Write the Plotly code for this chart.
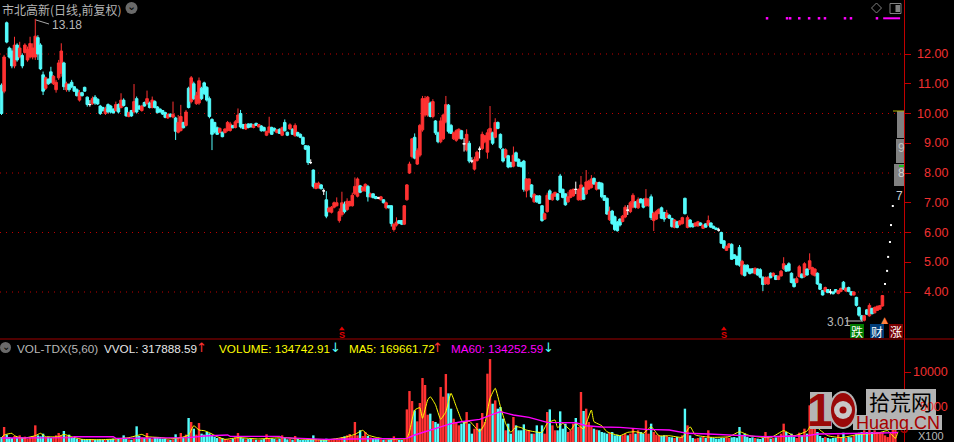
import plotly.graph_objects as go

# ---------- daily prices (estimates) ----------
highs = [
11.01,11.97,13.09,12.25,12.19,12.58,12.36,12.41,12.02,12.36,12.25,12.58,12.36,13.18,12.63,12.36,11.41,11.24,11.18,11.57,11.29,
11.13,11.80,12.36,11.74,11.07,11.01,11.13,10.92,10.85,10.79,10.73,10.90,10.57,10.45,10.57,10.62,10.51,10.29,10.23,10.23,10.34,
10.29,10.17,10.40,10.34,10.68,10.51,10.23,10.06,10.12,10.99,10.57,10.29,10.29,10.40,10.77,10.40,10.57,10.45,10.25,10.17,10.12,
10.06,10.00,10.00,10.40,9.89,9.95,10.29,9.72,10.12,10.90,11.26,11.07,10.73,11.21,10.90,11.07,10.92,10.57,9.84,9.72,9.56,9.53,9.39,
9.50,9.75,9.72,9.61,9.78,10.17,10.12,9.65,9.67,9.67,9.67,9.65,9.69,9.65,9.61,9.56,9.42,9.89,9.56,9.53,9.47,9.50,9.56,9.80,9.39,
9.67,9.50,9.67,9.39,9.33,9.22,8.94,
8.94,8.46,8.12,7.68,7.71,7.63,7.48,7.39,6.87,6.89,7.04,7.18,6.81,7.37,7.04,7.15,7.07,7.34,7.85,7.85,7.60,7.56,7.65,7.60,7.34,7.32,
7.23,7.20,7.23,7.12,7.04,6.92,6.92,6.31,6.51,6.42,6.42,6.92,7.63,8.38,9.17,9.33,8.83,9.65,10.59,10.59,10.59,10.40,10.48,9.78,9.39,
9.87,10.00,10.59,10.32,9.65,9.39,9.47,9.50,9.45,9.17,9.47,9.08,8.53,8.55,8.75,8.89,9.39,9.28,9.47,10.25,9.39,9.84,9.73,9.33,8.83,
8.83,8.61,8.38,8.89,8.72,8.49,8.38,8.44,7.82,7.82,7.63,7.32,7.26,7.26,6.92,6.67,7.34,7.45,7.32,7.37,7.32,7.97,7.48,7.32,7.37,7.45,
7.48,7.71,7.48,7.90,7.54,8.10,7.77,7.93,7.85,7.71,7.71,
7.69,7.26,7.18,6.87,6.76,6.57,6.39,6.48,6.59,6.92,6.92,7.06,7.32,7.06,7.18,7.15,7.15,7.46,7.15,7.28,6.70,6.76,6.81,6.87,6.70,6.76,
6.61,6.50,6.45,6.39,6.42,6.53,7.17,6.57,6.45,6.31,6.34,6.39,6.34,6.27,6.31,6.57,6.34,6.23,6.17,6.16,6.03,5.75,5.56,5.64,
5.64,5.27,5.22,5.58,5.08,4.93,4.93,4.80,4.80,4.82,4.80,4.80,4.52,4.52,4.52,4.66,4.66,4.57,4.55,4.74,5.17,4.91,5.00,4.66,4.46,4.52,
4.91,4.63,5.00,4.80,5.30,4.85,4.80,4.66,4.29,4.07,4.18,4.10,4.10,4.03,4.10,4.07,4.15,4.37,4.15,4.18,4.03,4.03,3.84,3.51,3.23,3.23,
3.43,3.62,3.47,3.51,3.54,3.56,3.90]
lows = [
9.95,10.68,12.36,11.85,11.52,11.52,11.74,11.85,11.52,12.02,11.74,11.85,11.82,11.80,11.80,11.46,10.62,10.79,10.96,11.01,10.96,
10.70,11.13,11.24,10.79,10.73,10.73,10.85,10.73,10.57,10.40,10.57,10.73,10.23,10.23,10.29,10.29,10.29,9.95,10.06,9.95,10.00,
10.00,10.00,10.06,10.00,10.17,10.23,9.89,9.87,9.89,10.00,10.00,10.12,10.06,10.23,10.29,10.17,10.17,10.17,10.00,10.03,9.95,
9.84,9.82,9.87,9.84,9.11,9.33,9.39,9.50,9.56,10.17,10.34,10.45,10.29,10.29,10.45,10.62,10.40,9.84,8.77,9.33,9.28,9.33,9.20,
9.33,9.39,9.39,9.50,9.50,9.67,9.50,9.47,9.45,9.50,9.53,9.50,9.58,9.53,9.39,9.39,9.24,9.33,9.28,9.39,9.33,9.31,9.24,9.39,9.24,
9.45,9.28,9.22,9.22,9.17,8.94,8.77,
8.27,8.30,7.48,7.45,7.48,7.45,7.26,6.48,6.67,6.64,6.81,6.87,6.33,6.53,6.64,6.73,6.87,6.87,7.26,7.18,7.32,7.37,7.37,7.04,7.18,7.15,
7.12,7.12,7.07,6.98,6.78,6.81,6.20,6.03,6.20,6.29,6.25,6.25,7.07,7.97,8.49,8.46,8.27,8.53,9.39,9.89,9.89,9.87,9.84,9.28,9.00,
9.00,9.11,9.67,9.33,9.31,9.11,9.05,9.13,9.13,8.72,8.72,8.33,8.33,8.08,8.38,8.49,8.77,9.00,8.48,9.09,8.94,9.17,9.47,8.80,8.35,
8.49,8.16,8.19,8.19,8.38,8.21,8.19,7.37,7.18,7.41,7.15,7.00,7.00,6.96,6.36,6.42,6.67,7.09,7.07,7.20,7.07,7.32,7.15,6.90,7.00,7.15,
7.20,7.29,7.07,7.07,7.09,7.26,7.43,7.48,7.60,7.41,7.45,
7.15,7.06,6.59,6.39,6.25,6.05,6.03,6.20,6.34,6.48,6.59,6.65,6.81,6.81,6.79,6.98,6.81,6.87,6.87,6.42,6.05,6.42,6.61,6.45,6.36,6.48,
6.45,6.16,6.14,6.14,6.23,6.27,6.61,6.14,6.16,6.17,6.20,6.20,6.22,6.12,6.16,6.23,6.16,6.12,6.08,6.03,5.61,5.45,5.38,5.47,
5.08,5.11,4.89,4.85,4.55,4.52,4.66,4.59,4.63,4.59,4.55,4.46,4.03,4.24,4.24,4.46,4.52,4.40,4.40,4.52,4.74,4.68,4.68,4.29,4.15,4.29,
4.48,4.46,4.48,4.55,4.74,4.55,4.52,4.24,4.07,3.88,3.99,3.96,3.92,3.92,3.99,3.92,3.99,4.07,4.01,3.99,3.88,3.88,3.51,3.17,3.03,3.01,
3.23,3.17,3.25,3.28,3.36,3.40,3.51]
opens = [
10.95,10.75,13.05,12.20,12.10,11.60,12.30,11.90,11.95,12.05,11.80,11.90,11.90,11.90,12.55,12.30,11.30,10.85,11.15,11.40,11.00,
10.80,11.20,11.35,11.70,10.80,10.98,11.05,10.90,10.80,10.45,10.70,10.88,10.55,10.30,10.33,10.55,10.48,10.25,10.20,10.00,10.30,
10.25,10.15,10.10,10.30,10.20,10.45,10.20,9.90,10.10,10.05,10.50,10.25,10.10,10.37,10.33,10.35,10.20,10.40,10.22,10.15,10.10,
10.03,9.85,9.98,9.88,9.85,9.37,9.43,9.70,9.60,10.85,10.40,11.00,10.33,10.35,10.85,11.03,10.88,10.50,9.80,9.70,9.52,9.36,9.37,
9.36,9.43,9.43,9.60,9.53,9.70,10.00,9.63,9.48,9.65,9.65,9.53,9.67,9.55,9.58,9.53,9.27,9.37,9.53,9.50,9.36,9.47,9.27,9.70,9.37,
9.48,9.47,9.25,9.36,9.30,9.20,8.92,
8.90,8.35,8.10,7.48,7.50,7.60,7.40,7.10,6.70,6.68,6.85,6.90,6.40,6.60,6.95,6.77,6.90,6.90,7.30,7.22,7.57,7.40,7.40,7.55,7.20,7.30,
7.21,7.16,7.10,7.10,6.83,6.90,6.90,6.10,6.25,6.40,6.40,6.28,7.10,8.00,8.55,9.20,8.30,8.60,9.45,9.95,9.95,10.35,9.90,9.75,9.35,
9.05,9.15,9.72,10.28,9.60,9.15,9.10,9.17,9.42,8.98,8.77,9.00,8.40,8.13,8.42,8.80,8.82,9.05,8.70,9.13,9.35,9.20,9.70,9.30,8.80,
8.53,8.58,8.35,8.23,8.68,8.46,8.35,8.40,7.40,7.45,7.60,7.03,7.23,7.23,6.90,6.45,6.70,7.40,7.10,7.22,7.30,7.90,7.45,7.30,7.03,7.18,
7.23,7.45,7.10,7.10,7.50,7.30,7.46,7.51,7.82,7.45,7.68,
7.65,7.24,7.15,6.43,6.72,6.53,6.35,6.45,6.37,6.52,6.75,6.70,6.85,7.03,6.83,7.13,7.10,6.90,6.90,7.20,6.40,6.45,6.64,6.83,6.67,6.50,
6.58,6.47,6.17,6.36,6.26,6.30,7.15,6.17,6.42,6.29,6.22,6.22,6.32,6.14,6.29,6.25,6.32,6.21,6.15,6.08,6.00,5.72,5.40,5.50,
5.60,5.25,5.20,5.50,4.60,4.90,4.90,4.77,4.78,4.62,4.77,4.75,4.50,4.28,4.27,4.63,4.54,4.55,4.42,4.54,4.78,4.88,4.95,4.63,4.43,4.32,
4.52,4.60,4.52,4.77,4.78,4.60,4.55,4.63,4.27,4.05,4.02,4.08,4.00,4.00,4.08,3.95,4.02,4.33,4.03,4.15,4.01,3.90,3.82,3.48,3.20,3.05,
3.40,3.20,3.45,3.30,3.38,3.42,3.53]
closes = [
10.00,11.90,12.40,11.90,11.60,12.30,11.80,12.20,11.60,12.30,12.15,12.35,12.20,12.60,12.00,11.50,10.75,11.20,11.00,11.05,11.25,
11.05,11.70,12.10,10.90,11.00,10.80,10.90,10.75,10.60,10.70,10.60,10.75,10.30,10.30,10.50,10.35,10.32,10.00,10.10,10.15,10.05,
10.05,10.02,10.30,10.05,10.45,10.27,9.92,10.03,9.92,10.40,10.05,10.15,10.25,10.25,10.50,10.20,10.45,10.20,10.03,10.05,9.98,
9.87,9.97,9.90,9.97,9.40,9.70,9.90,9.52,10.05,10.20,11.20,10.50,10.60,11.10,10.50,10.67,10.45,9.90,9.30,9.38,9.30,9.50,9.22,
9.48,9.70,9.65,9.52,9.72,9.95,9.55,9.50,9.63,9.53,9.55,9.62,9.60,9.63,9.42,9.42,9.40,9.55,9.30,9.42,9.45,9.33,9.52,9.42,9.27,
9.62,9.30,9.60,9.25,9.20,8.97,8.80,
8.35,8.35,7.55,7.65,7.66,7.47,7.40,6.55,6.82,6.85,7.00,7.00,6.70,7.00,6.70,7.05,7.04,7.25,7.55,7.80,7.35,7.52,7.62,7.20,7.30,7.17,
7.14,7.16,7.20,7.00,7.00,6.83,6.30,6.28,6.35,6.31,6.28,6.90,7.60,8.30,9.15,8.50,8.75,9.60,10.50,10.50,10.55,9.90,10.40,9.35,9.05,
9.75,9.95,10.30,9.40,9.33,9.35,9.42,9.47,9.15,8.98,9.30,8.40,8.40,8.45,8.70,8.80,9.30,9.25,9.35,9.50,9.00,9.70,9.50,8.85,8.40,
8.78,8.20,8.21,8.60,8.40,8.23,8.21,7.45,7.80,7.80,7.20,7.28,7.03,6.98,6.40,6.63,7.25,7.12,7.28,7.35,7.10,7.35,7.18,6.93,7.20,7.42,
7.45,7.45,7.45,7.60,7.12,7.70,7.73,7.80,7.63,7.68,7.47,
7.20,7.08,6.62,6.70,6.30,6.10,6.06,6.25,6.55,6.85,6.75,7.00,7.25,6.85,7.10,7.00,6.85,7.15,7.10,6.50,6.65,6.70,6.78,6.48,6.45,6.65,
6.48,6.20,6.42,6.17,6.39,6.50,6.63,6.50,6.20,6.19,6.32,6.36,6.24,6.25,6.18,6.40,6.18,6.14,6.10,6.08,5.64,5.48,5.53,5.62,
5.10,5.13,4.92,4.90,5.03,4.55,4.70,4.62,4.65,4.80,4.57,4.50,4.25,4.48,4.50,4.48,4.63,4.42,4.53,4.70,4.95,4.70,4.72,4.32,4.18,4.45,
4.85,4.48,4.95,4.57,5.05,4.82,4.77,4.27,4.09,3.90,4.15,3.98,4.00,3.94,4.00,4.05,4.12,4.10,4.13,4.02,3.90,4.00,3.55,3.22,3.08,3.20,
3.25,3.55,3.27,3.48,3.52,3.54,3.88]

# ---------- volume (x100 lots), one entry per day; the panel runs a few days past the last candle ----------
volumes = [
710,2140,1050,710,570,860,670,950,670,760,480,670,860,2380,950,810,1190,670,760,570,670,950,1290,950,1570,860,1050,670,570,480,
380,430,330,290,430,380,290,330,380,330,290,380,430,480,380,430,480,950,480,380,330,430,2240,860,670,620,1290,570,430,710,
670,520,480,430,330,290,380,1100,570,1290,670,1050,3430,2860,1900,1050,2710,1190,1050,1430,1240,950,760,570,670,570,430,380,330,480,
670,1290,670,520,380,430,520,380,330,290,330,430,1100,570,520,430,380,480,950,570,380,430,330,860,430,290,
290,240,240,330,950,330,290,240,380,480,290,240,290,240,290,710,810,950,1140,860,2860,950,1670,860,1430,860,670,570,570,480,
380,330,290,330,380,810,380,290,290,380,
4660,7280,5850,4520,2950,5570,9140,8140,3900,4050,3000,2860,2620,7850,6470,9710,6950,4760,3330,2860,2380,2620,2860,4280,2620,
1190,1900,2710,1900,4140,2860,9760,11850,5470,5950,4760,5000,3330,1670,2620,1190,3570,2380,1670,1670,2520,1670,1670,1190,1190,
2380,1430,2380,1190,4280,4660,2380,1670,1670,4380,1900,2620,1430,1670,2620,3430,2140,7140,4430,4760,2860,2140,1900,1760,1670,
1430,1330,1190,1330,1430,950,1050,860,950,1190,950,1190,1900,1190,1670,1430,1190,3090,1190,2620,1430,1050,950,860,950,860,710,670,
570,710,570,950,4760,2380,950,570,480,570,670,710,570,1670,670,570,480,480,570,570,670,570,670,710,620,2140,950,1190,710,570,670,
570,480,430,570,1430,710,480,570,670,710,1190,2620,1430,950,1190,710,570,1330,950,1900,1190,5240,3330,2860,1430,860,570,710,570,
480,570,570,1050,710,1330,570,710,670,860,1190,1330,1430,1670,1430,1900,1430,1670,1430,1330,1330,950,710,1190,1900,4090]

ma5_days = [0,1,4,5,8,13,15,17,22,24,27,31,38,44,49,52,54,56,62,64,69,72,74,76,78,80,83,86,91,99,103,109,115,
            125,132,136,139,141,144,148,156,157,159,161,162,164,165,167,169,171,173,175,177,178,180,184,186,188,190,192,194,196,198,200,202,205,208,210,213,214,216,219,221,224,227,228,230,
            231,233,238,241,244,247,250,253,257,262,265,267,273,280,284,288,296,301,305,310,312,315,318,323,330,337,341,344,345]
ma5_vals = [620,1000,1240,900,520,900,1240,760,760,1090,760,380,330,430,620,900,1090,760,620,430,620,1000,2330,1710,1620,1330,760,380,620,430,520,620,430,
            290,670,1090,1670,1000,670,430,520,1470,4570,4900,3380,6000,6470,5330,3240,4330,6950,5050,3140,2670,3000,1470,2660,6240,7670,5050,2660,1380,2190,2050,1710,1470,1380,2660,3140,2050,2660,1710,2660,1860,4570,2900,2520,
            2330,1470,900,1380,1470,1240,2180,900,900,670,2180,1000,670,760,1470,900,620,1620,900,1570,2660,1710,900,620,1090,1240,1620,520,1470]
ma60_days = [0,27,28,43,44,72,78,87,88,107,108,115,125,135,156,159,164,169,173,177,184,189,192,197,203,210,221,225,230,231,238,248,257,264,272,282,294,310,314,333,345]
ma60_vals = [570,620,760,760,520,620,860,1000,810,810,620,480,380,430,520,1000,1570,2090,2620,2900,3240,3950,4330,3860,3520,2810,2760,2330,2190,2140,2090,1810,1710,1240,1140,1000,760,900,1140,1240,1340]

price_ticks = [4, 5, 6, 7, 8, 9, 10, 11, 12]
price_grid = [4, 6, 8, 10, 12]
vol_ticks = [5000, 10000]
vol_tick_labels = ["5000", "10000"]
signal_days = [131, 278]
signal_level = [2.76, 2.76]
top_mark_days = [294.6, 302.3, 303.5, 307, 310.8, 314.6, 316.9, 324.6, 326.9, 336.9]
top_band_days = [339.3, 345.8]
dot_days = [343, 342.3, 341.9, 341.2, 340.8, 340]
dot_prices = [6.89, 6.25, 5.68, 5.18, 4.71, 4.27]
title_text = "市北高新(日线,前复权)"
high_label = "13.18"
low_label = "3.01"

assert len(highs) == len(lows) == len(opens) == len(closes), (len(highs), len(lows), len(opens), len(closes))
n = len(highs)
assert len(ma5_days) == len(ma5_vals) and len(ma60_days) == len(ma60_vals)

W, H = 954, 442
AXIS_X = 904
SEP_Y = 339
RED, CYAN, AXIS = "#ff3232", "#54fcfc", "#c00000"
LABEL = "#f03030"
GRAY = "#b8b8b8"
FONT = "Liberation Sans"
CJK = "Noto Sans CJK SC"

def X(p): return p / W
def Y(p): return 1 - p / H

fig = go.Figure()
days = list(range(n))
flat = [i for i in days if opens[i] == closes[i]]
move = [i for i in days if opens[i] != closes[i]]

vol_days = list(range(len(volumes)))
vol_col = [RED if (i >= n or closes[i] > opens[i]) else CYAN for i in vol_days]
fig.add_trace(go.Bar(x=vol_days, y=volumes, marker=dict(color=vol_col, line=dict(width=0)),
                     width=0.92, xaxis="x", yaxis="y2", showlegend=False))
fig.add_trace(go.Scatter(x=ma5_days, y=ma5_vals, mode="lines", line=dict(color="#ffff00", width=1, shape="spline", smoothing=0.4),
                         xaxis="x", yaxis="y2", showlegend=False))
fig.add_trace(go.Scatter(x=ma60_days, y=ma60_vals, mode="lines", line=dict(color="#ff00ff", width=1.4),
                         xaxis="x", yaxis="y2", showlegend=False))

def candle(idx, up, dn):
    return go.Candlestick(x=idx, open=[opens[i] for i in idx], high=[highs[i] for i in idx],
                          low=[lows[i] for i in idx], close=[closes[i] for i in idx],
                          increasing=dict(line=dict(color=up, width=1), fillcolor=up),
                          decreasing=dict(line=dict(color=dn, width=1), fillcolor=dn),
                          whiskerwidth=0, xaxis="x", yaxis="y", showlegend=False)

fig.add_trace(candle(move, RED, CYAN))
fig.add_trace(candle(flat, "#ffffff", "#ffffff"))

fig.add_trace(go.Scatter(x=dot_days, y=dot_prices, mode="markers", marker=dict(color="#ffffff", size=2, symbol="square"),
                         xaxis="x", yaxis="y", showlegend=False))
fig.add_trace(go.Scatter(x=top_mark_days, y=[13.2] * len(top_mark_days), mode="markers",
                         marker=dict(color="#ff00ff", size=2.5, symbol="square"), xaxis="x", yaxis="y", showlegend=False))
fig.add_trace(go.Scatter(x=top_band_days, y=[13.2] * 2, mode="lines", line=dict(color="#ff00ff", width=2),
                         xaxis="x", yaxis="y", showlegend=False))
fig.add_trace(go.Scatter(x=signal_days, y=signal_level, mode="markers", marker=dict(color="#e00000", size=5, symbol="triangle-up", line=dict(width=0)),
                         xaxis="x", yaxis="y", cliponaxis=False, showlegend=False))

shapes, ann = [], []

def text(x, y, s, color=GRAY, size=12, anchor="left", family=FONT):
    ann.append(dict(x=X(x), y=Y(y), xref="paper", yref="paper", text=s, showarrow=False, xanchor=anchor, yanchor="middle",
                    font=dict(color=color, size=size, family=family)))

def rect(x0, y0, x1, y1, color, line=None, layer="above"):
    shapes.append(dict(type="rect", xref="paper", yref="paper", x0=X(x0), x1=X(x1), y0=Y(y0), y1=Y(y1),
                       fillcolor=color, line=dict(color=line or color, width=1 if line else 0), layer=layer))

def seg(x0, y0, x1, y1, color, width=1, dash=None, layer="above"):
    shapes.append(dict(type="line", xref="paper", yref="paper", x0=X(x0), x1=X(x1), y0=Y(y0), y1=Y(y1),
                       line=dict(color=color, width=width, dash=dash or "solid"), layer=layer))

# grid, axes, separators
for v in price_grid:
    shapes.append(dict(type="line", xref="x domain", yref="y", x0=0, x1=1, y0=v, y1=v,
                       line=dict(color="#c00000", width=1, dash="1px,5px"), layer="below"))
for v in vol_ticks:
    shapes.append(dict(type="line", xref="x domain", yref="y2", x0=0, x1=1, y0=v, y1=v,
                       line=dict(color="#c00000", width=1, dash="1px,5px"), layer="below"))
seg(0, SEP_Y, W, SEP_Y, "#a00000", 1)
for v in price_ticks:
    ann.append(dict(x=X(950), y=v, xref="paper", yref="y", text=f"{v:.2f}", showarrow=False, xanchor="right", yanchor="middle",
                    font=dict(color=LABEL, size=12.5, family=FONT)))
for v, s in zip(vol_ticks, vol_tick_labels):
    ann.append(dict(x=X(950), y=v, xref="paper", yref="y2", text=s, showarrow=False, xanchor="right", yanchor="middle",
                    font=dict(color=LABEL, size=12.5, family=FONT)))

# title line
text(0, 9, title_text, color="#b4b4b4", size=12, family=CJK)
shapes.append(dict(type="circle", xref="paper", yref="paper", x0=X(125.5), x1=X(137.5), y0=Y(2), y1=Y(14),
                   fillcolor="#6a6a6a", line=dict(width=0)))
text(131.5, 7, "⌄", color="#000000", size=11, anchor="center", family="DejaVu Sans")

# high and low flags
seg(36, 20, 49, 24, "#a8a8a8")
text(50, 24.5, high_label, color=GRAY, size=12)
text(825, 322, low_label, color=GRAY, size=12)
seg(846, 321, 863, 321, "#c8c8c8")

# top right icons
shapes.append(dict(type="path", xref="paper", yref="paper",
                   path=f"M {X(876.5)} {Y(3)} L {X(881.5)} {Y(8)} L {X(876.5)} {Y(13)} L {X(871.5)} {Y(8)} Z",
                   line=dict(color="#808080", width=1)))
rect(890, 3.5, 901, 13.5, "#000000", line="#808080")
rect(895.5, 5, 900, 12, "#808080")

# price-distribution blocks at the right edge
rect(897, 111, AXIS_X, 138, "#808080")
rect(896, 139, AXIS_X, 163, "#808080")
rect(894, 164, AXIS_X, 186, "#808080")
seg(893, 111, AXIS_X, 111, "#b0b000")
seg(899, 166, AXIS_X, 166, "#00d000", 1.5)
text(901, 148, "9", color="#c0c0c0", size=12, anchor="center")
text(901, 173, "8", color="#d0d0d0", size=12, anchor="center")
text(899, 196, "7", color="#d0d0d0", size=12, anchor="center")

# event badges
for x0, col, s in [(850, "#007a00", "跌"), (870, "#003c78", "财"), (889, "#7a0000", "涨")]:
    rect(x0, 324, x0 + 14, 338, col)
    text(x0 + 7, 331, s, color="#ffffff", size=12, anchor="center", family=CJK)
text(884, 320, "▲", color="#ff8040", size=9, anchor="center", family="DejaVu Sans")

# sell signals
for d in signal_days:
    ann.append(dict(x=d, y=Y(335), xref="x", yref="paper", text="<b>S</b>", showarrow=False, yanchor="middle",
                    font=dict(color="#e00000", size=9, family=FONT)))

# indicator line
shapes.append(dict(type="circle", xref="paper", yref="paper", x0=X(0), x1=X(11), y0=Y(342), y1=Y(353),
                   fillcolor="#6a6a6a", line=dict(width=0)))
text(5.5, 346, "⌄", color="#000000", size=10, anchor="center", family="DejaVu Sans")
text(15, 348, "VOL-TDX(5,60)", color=GRAY, size=11.7)
text(102, 348, "VVOL: 317888.59", color="#e8e8e8", size=11.7)
text(201, 347, "↑", color=RED, size=13, anchor="center", family="DejaVu Sans")
text(217, 348, "VOLUME: 134742.91", color="#ffff00", size=11.7)
text(335, 347, "↓", color=CYAN, size=13, anchor="center", family="DejaVu Sans")
text(347, 348, "MA5: 169661.72", color="#ffff00", size=11.7)
text(437, 347, "↑", color=RED, size=13, anchor="center", family="DejaVu Sans")
text(449, 348, "MA60: 134252.59", color="#ff00ff", size=11.7)
text(548, 347, "↓", color=CYAN, size=13, anchor="center", family="DejaVu Sans")

# watermark
rect(866, 389, 936, 415, "#b4b4b4")
rect(853, 415, 942, 430, "#b4b4b4")
rect(810, 392, 832, 429, "#b4b4b4")
shapes.append(dict(type="circle", xref="paper", yref="paper", x0=X(829), x1=X(857), y0=Y(391), y1=Y(429), fillcolor="#b4b4b4", line=dict(width=0)))
shapes.append(dict(type="circle", xref="paper", yref="paper", x0=X(831), x1=X(855), y0=Y(393), y1=Y(427), fillcolor="#9a0808", line=dict(width=0)))
shapes.append(dict(type="circle", xref="paper", yref="paper", x0=X(834), x1=X(852), y0=Y(401), y1=Y(419), fillcolor="#c8c8c8", line=dict(width=0)))
shapes.append(dict(type="circle", xref="paper", yref="paper", x0=X(839.5), x1=X(846.5), y0=Y(406.5), y1=Y(413.5), fillcolor="#9a0808", line=dict(width=0)))
text(820, 410, "<b>1</b>", color="#9a0808", size=46, anchor="center")
text(900, 401, "拾荒网", color="#000000", size=21, anchor="center", family=CJK)
text(898, 423, "Huang.CN", color="#a80000", size=18, anchor="center")
text(916, 436, "X100", color="#b8b8b8", size=11)

fig.update_layout(
    width=W, height=H, margin=dict(l=0, r=0, t=0, b=0), paper_bgcolor="#000000", plot_bgcolor="#000000",
    showlegend=False, barmode="overlay", boxgap=0.02, boxgroupgap=0, boxmode="overlay",
    xaxis=dict(domain=[0, AXIS_X / W], range=[-0.58, (AXIS_X - 1) / 2.6], visible=False, rangeslider=dict(visible=False), fixedrange=True),
    yaxis=dict(domain=[1 - SEP_Y / H, 1], range=[4 - (SEP_Y - 292) / 29.75, 4 + 292 / 29.75], side="right", anchor="x", showgrid=False, zeroline=False,
               tickmode="array", tickvals=price_ticks, showticklabels=False, ticks="outside", ticklen=6, tickcolor=AXIS,
               showline=True, linecolor=AXIS, linewidth=1, fixedrange=True),
    yaxis2=dict(domain=[0, (H - SEP_Y) / H], range=[0, (H - SEP_Y) * 5000 / 35], side="right", anchor="x", showgrid=False, zeroline=False,
                tickmode="array", tickvals=vol_ticks, showticklabels=False, ticks="outside", ticklen=6, tickcolor=AXIS,
                showline=True, linecolor=AXIS, linewidth=1, fixedrange=True),
    shapes=shapes, annotations=ann, hovermode=False,
)

fig.write_html("out.html", config=dict(displayModeBar=False),
               post_script="document.body.style.margin='0';document.documentElement.style.overflow='hidden';")
